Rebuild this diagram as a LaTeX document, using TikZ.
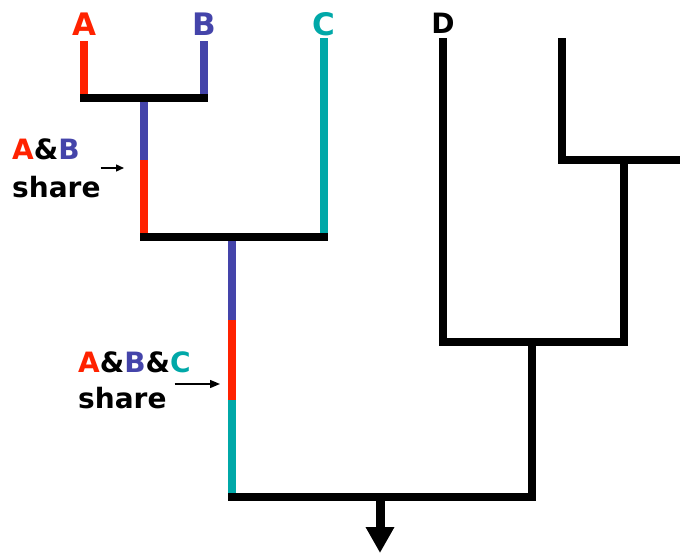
\documentclass[tikz,border=0pt]{standalone}
\usepackage{fontspec}
\setmainfont{DejaVu Sans}
\usetikzlibrary{arrows.meta}
\definecolor{cA}{HTML}{FF2200}
\definecolor{cB}{HTML}{4444AA}
\definecolor{cC}{HTML}{00A8A8}
\begin{document}
\begin{tikzpicture}[x=1pt,y=-1pt,
  branch/.style={line width=8pt},
  bar/.style={line width=8pt, line cap=rect},
  leaf/.style={font=\bfseries\fontsize{31}{31}\selectfont, inner sep=0pt, anchor=base},
  note/.style={font=\bfseries\fontsize{28}{28}\selectfont, inner sep=0pt, anchor=base west},
  pointer/.style={line width=1.4pt, -{Triangle[width=8pt,length=10pt]}}]
\useasboundingbox (0,0) rectangle (680,554);
\clip (0,0) rectangle (680,554);

% leaf labels
\node[leaf, text=cA] (labA) at (84,35) {A};
\node[leaf, text=cB] (labB) at (204,35) {B};
\node[leaf, text=cC] (labC) at (323.5,35) {C};
\node[leaf, text=black, font=\bfseries\fontsize{28}{28}\selectfont] (labD) at (443,33) {D};

% tree points
\coordinate (Atop) at (84,41);    \coordinate (Ajoin) at (84,98);
\coordinate (Btop) at (204,41);   \coordinate (Bjoin) at (204,98);
\coordinate (ABmid) at (143.5,98); \coordinate (ABsplit) at (143.5,160); \coordinate (ABbase) at (143.5,237);
\coordinate (Ctop) at (323.5,38); \coordinate (Cjoin) at (323.5,237);
\coordinate (ABCmid) at (232,237); \coordinate (ABCs1) at (232,320);
\coordinate (ABCs2) at (232,400); \coordinate (ABCbase) at (232,497);
\coordinate (Dtop) at (443,38);   \coordinate (Djoin) at (443,342);
\coordinate (Etop) at (562,38);   \coordinate (Ejoin) at (562,160);
\coordinate (Eright) at (684,160);
\coordinate (Fmid) at (623.5,160); \coordinate (Fjoin) at (623.5,342);
\coordinate (DEmid) at (532,342); \coordinate (DEbase) at (532,497);
\coordinate (root) at (380,497);  \coordinate (rootend) at (380,553);

% branches
\draw[branch, cA] (Atop) -- (Ajoin);
\draw[branch, cB] (Btop) -- (Bjoin);
\draw[branch, cC] (Ctop) -- (Cjoin);
\draw[branch, cB] (ABmid) -- (ABsplit);
\draw[branch, cA] (ABsplit) -- (ABbase);
\draw[branch, cB] (ABCmid) -- (ABCs1);
\draw[branch, cA] (ABCs1) -- (ABCs2);
\draw[branch, cC] (ABCs2) -- (ABCbase);
\draw[branch] (Dtop) -- (Djoin);
\draw[branch] (Etop) -- (Ejoin);
\draw[branch] (Fmid) -- (Fjoin);
\draw[branch] (DEmid) -- (DEbase);

% joining bars
\draw[bar] (Ajoin) -- (Bjoin);
\draw[bar] (ABbase) -- (Cjoin);
\draw[bar] (Ejoin) -- (Eright);
\draw[bar] (Djoin) -- (Fjoin);
\draw[bar] (ABCbase) -- (DEbase);

% root arrow
\draw[line width=9pt, -{Triangle[width=27pt,length=26pt]}] (root) -- (rootend);

% shared-segment notes
\node[note] (ab) at (12,159) {\textcolor{cA}{A}\&\textcolor{cB}{B}};
\node[note] (abshare) at (12,197) {share};
\coordinate (abto) at (124,168);
\draw[pointer, -{Triangle[width=7pt,length=8pt]}] (abshare.east |- abto) -- (abto);

\node[note] (abc) at (78,372) {\textcolor{cA}{A}\&\textcolor{cB}{B}\&\textcolor{cC}{C}};
\node[note] (abcshare) at (78,408) {share};
\coordinate (abcto) at (220,384);
\draw[pointer] ([xshift=8pt]abcshare.east |- abcto) -- (abcto);
\end{tikzpicture}
\end{document}
